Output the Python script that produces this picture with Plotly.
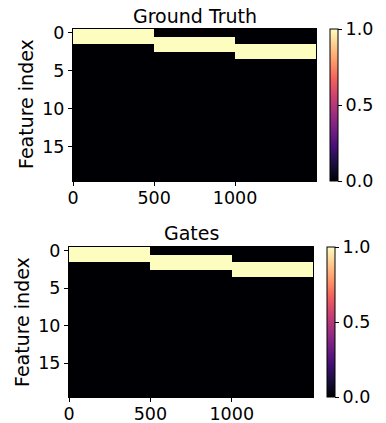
import plotly.graph_objects as go

# Data: segment boundaries in time and active features per segment
x_edges = [-0.5, 499.5, 999.5, 1499.5]
n_features = 20
truth_active = [[0, 1], [1, 2], [2, 3]]
gates_active = [[0, 1], [1, 2], [2, 3]]
x_ticks = [0, 500, 1000]
y_ticks = [0, 5, 10, 15]
cbar_ticks = [0.0, 0.5, 1.0]

y_edges = [i - 0.5 for i in range(n_features + 1)]


def build(active):
    z = [[0.0] * len(active) for _ in range(n_features)]
    for j, feats in enumerate(active):
        for f in feats:
            z[f][j] = 1.0
    return z


W, H = 386, 423
FONT = "DejaVu Sans"
FS = 17.5
FL = 19


def px(v):
    return v / W


def py(v):
    return 1 - v / H


fig = go.Figure()
fig.add_trace(go.Heatmap(z=build(truth_active), x=x_edges, y=y_edges,
                         coloraxis="coloraxis", xaxis="x", yaxis="y"))
fig.add_trace(go.Heatmap(z=build(gates_active), x=x_edges, y=y_edges,
                         coloraxis="coloraxis2", xaxis="x2", yaxis="y2"))

axis_common = dict(showgrid=False, zeroline=False, showline=True, linecolor="black",
                   linewidth=1, mirror=True, ticks="outside", ticklen=4, tickcolor="black",
                   automargin=False,
                   tickfont=dict(family=FONT, size=FS, color="black"))

cb_common = dict(thickness=8, thicknessmode="pixels", lenmode="fraction",
                 tickvals=cbar_ticks, ticktext=["0.0", "0.5", "1.0"], ticks="outside",
                 ticklen=4, tickcolor="black", outlinecolor="black", outlinewidth=1,
                 xanchor="left", yanchor="top", xpad=0, ypad=0,
                 tickfont=dict(family=FONT, size=FS, color="black"))

fig.update_layout(
    template="none",
    width=W, height=H, margin=dict(l=0, r=0, t=0, b=0, autoexpand=False),
    paper_bgcolor="white", plot_bgcolor="white", showlegend=False,
    font=dict(family=FONT, size=FS, color="black"),
    xaxis=dict(domain=[px(73), px(316)], range=[-0.5, 1499.5], tickvals=x_ticks,
               anchor="y", ticklabelstandoff=-3, **axis_common),
    yaxis=dict(domain=[py(181), py(29)], range=[19.5, -0.5], tickvals=y_ticks,
               anchor="x", **axis_common),
    xaxis2=dict(domain=[px(69), px(313)], range=[-0.5, 1499.5], tickvals=x_ticks,
                anchor="y2", ticklabelstandoff=-3, **axis_common),
    yaxis2=dict(domain=[py(397), py(247)], range=[19.5, -0.5], tickvals=y_ticks,
                anchor="x2", **axis_common),
    coloraxis=dict(colorscale="Magma", cmin=0, cmax=1,
                   colorbar=dict(x=px(330), y=py(29), len=152 / H, **cb_common)),
    coloraxis2=dict(colorscale="Magma", cmin=0, cmax=1,
                    colorbar=dict(x=px(327), y=py(247), len=150 / H, **cb_common)),
    annotations=[
        dict(text="Ground Truth", x=px(194.5), y=py(16), xref="paper", yref="paper",
             xanchor="center", yanchor="middle",
             showarrow=False, font=dict(family=FONT, size=FL, color="black")),
        dict(text="Gates", x=px(191), y=py(233), xref="paper", yref="paper",
             xanchor="center", yanchor="middle",
             showarrow=False, font=dict(family=FONT, size=FL, color="black")),
        dict(text="Feature index", x=px(26), y=py(104), xref="paper", yref="paper",
             xanchor="center", yanchor="middle",
             textangle=-90, showarrow=False, font=dict(family=FONT, size=FL, color="black")),
        dict(text="Feature index", x=px(22), y=py(322), xref="paper", yref="paper",
             xanchor="center", yanchor="middle",
             textangle=-90, showarrow=False, font=dict(family=FONT, size=FL, color="black")),
    ],
)

fig.write_html("out.html")
